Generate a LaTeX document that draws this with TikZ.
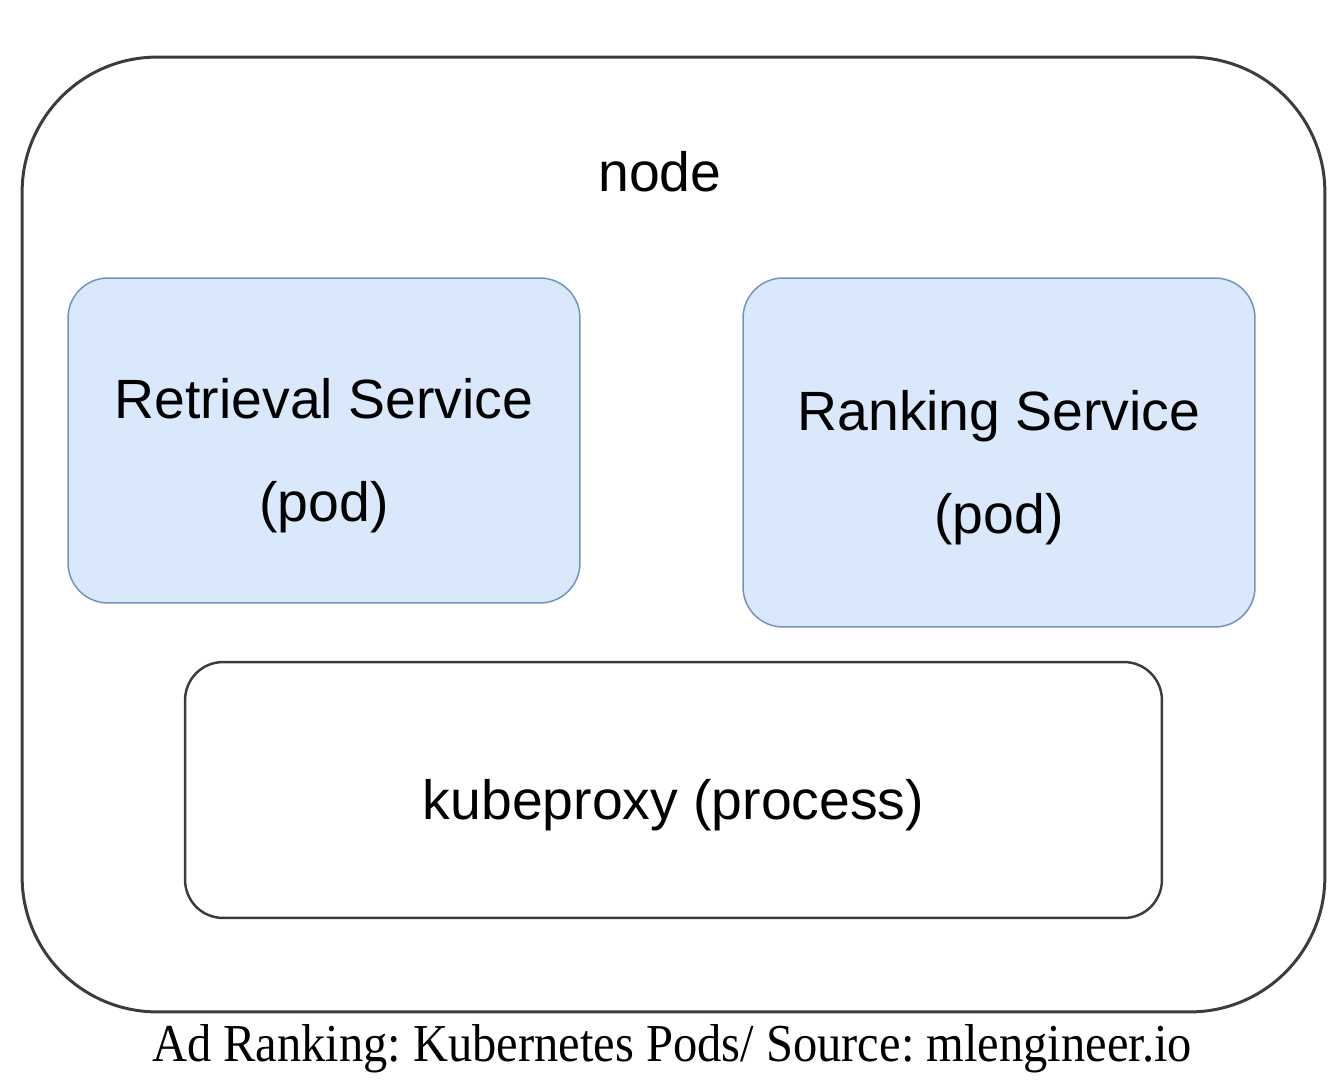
\documentclass[tikz,border=0pt]{standalone}
\usepackage{fontspec}
\setmainfont{Liberation Sans}
\newfontfamily\capfont{Liberation Serif}
\usepackage{tikz}
\usetikzlibrary{positioning, calc}
\usepackage{xcolor}
\definecolor{podfill}{RGB}{218,232,252}
\definecolor{podline}{RGB}{116,146,190}
\definecolor{frameline}{RGB}{60,60,60}
\frenchspacing

\tikzset{
  hostbox/.style={draw=frameline, line width=1.7pt, rounded corners=2.7cm, minimum width=26.06cm, minimum height=19.1cm},
  podbox/.style={draw=podline, fill=podfill, line width=0.85pt, rounded corners=0.8cm, minimum width=10.24cm},
  procbox/.style={draw=frameline, line width=1.4pt, rounded corners=0.76cm, minimum width=19.54cm, minimum height=5.12cm},
  boxtext/.style={font=\fontsize{31.5pt}{58.6pt}\selectfont, align=center, yshift=-0.3cm}
}

\begin{document}
\begin{tikzpicture}[x=0.02cm, y=-0.02cm]
  \useasboundingbox (0,0) rectangle (1340,1088);
  % outer node frame
  \node[hostbox] (host) at (673.5,534.5) {};
  \node[font=\fontsize{31.5pt}{38pt}\selectfont] (hostname) at (660,172) {node};
  % pods
  \node[podbox, minimum height=6.5cm, label={[boxtext]center:{Retrieval Service\\(pod)}}] (retrieval) at (324,440.5) {};
  \node[podbox, minimum height=6.98cm, label={[boxtext]center:{Ranking Service\\(pod)}}] (ranking) at (999,452.5) {};
  % process
  \node[procbox, label={[boxtext]center:{kubeproxy (process)}}] (proxy) at (673.5,790) {};
  % caption
  \node[font=\capfont\fontsize{27.6pt}{32pt}\selectfont] (caption) at (672,1049) {\scalebox{1}[1.1]{Ad Ranking: Kubernetes Pods/ Source: mlengineer.io}};
\end{tikzpicture}
\end{document}
